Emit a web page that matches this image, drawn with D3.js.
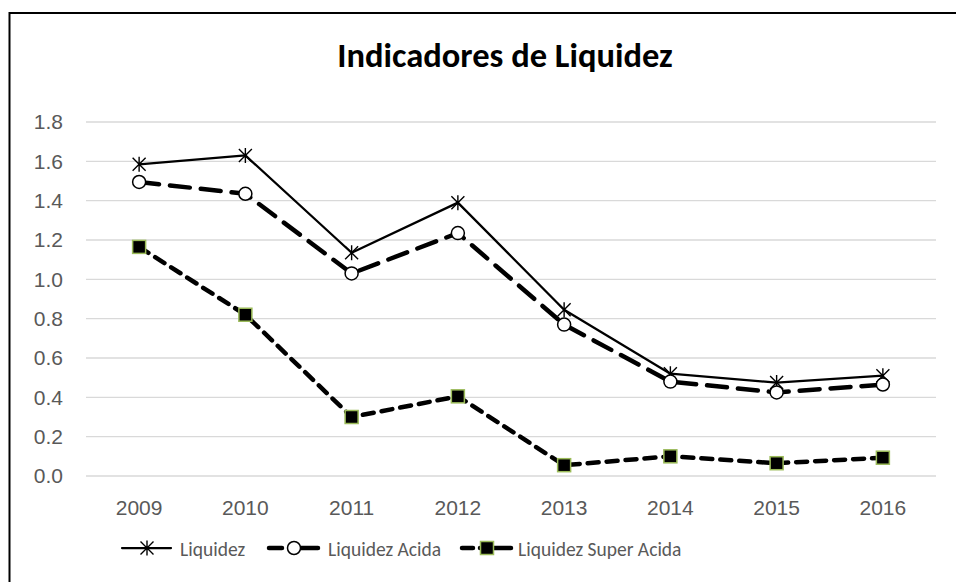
<!DOCTYPE html>
<html>
<head>
<meta charset="utf-8">
<script src="https://cdn.jsdelivr.net/npm/d3@7"></script>
<style>
  body { margin: 0; background: #fff; }
  svg { display: block; font-family: Calibri, Carlito, "Open Sans", "Liberation Sans", sans-serif; }
</style>
</head>
<body>
<svg id="chart" width="956" height="582"></svg>
<script>
var years = ["2009", "2010", "2011", "2012", "2013", "2014", "2015", "2016"];
var liquidez = [1.585, 1.63, 1.135, 1.39, 0.845, 0.52, 0.475, 0.51];
var liquidezAcida = [1.495, 1.435, 1.03, 1.235, 0.77, 0.48, 0.425, 0.465];
var liquidezSuperAcida = [1.165, 0.82, 0.30, 0.405, 0.055, 0.10, 0.065, 0.093];
var yTicks = [0, 0.2, 0.4, 0.6, 0.8, 1.0, 1.2, 1.4, 1.6, 1.8];

var series = [
  { name: "Liquidez", values: liquidez, width: 2.25, dash: null, legendDash: null, marker: "star" },
  { name: "Liquidez Acida", values: liquidezAcida, width: 4.5, dash: "20,11", legendDash: "13,19,17,20", marker: "circle" },
  { name: "Liquidez Super Acida", values: liquidezSuperAcida, width: 4.5, dash: "11,8", legendDash: "11,7,2,12,17,30", marker: "square" }
];

var svg = d3.select("#chart");

// frame (only top and left edges are in view)
svg.append("path")
  .attr("d", "M9.5,582V13H956")
  .attr("fill", "none").attr("stroke", "#000").attr("stroke-width", 2);

svg.append("text")
  .attr("x", 505).attr("y", 67)
  .attr("text-anchor", "middle")
  .attr("font-size", 34.5).attr("font-weight", "bold")
  .text("Indicadores de Liquidez");

var x = d3.scaleBand().domain(years).range([86, 936]);
var y = d3.scaleLinear().domain([0, 1.8]).range([476, 122]);

// grid
svg.append("g").selectAll("line")
  .data(yTicks).enter().append("line")
  .attr("x1", 86).attr("x2", 936)
  .attr("y1", function(d) { return y(d); })
  .attr("y2", function(d) { return y(d); })
  .attr("stroke", "#d9d9d9").attr("stroke-width", 1.3);

var yAxis = svg.append("g")
  .attr("transform", "translate(86,0)")
  .call(d3.axisLeft(y).tickValues(yTicks).tickFormat(d3.format(".1f")).tickSize(0).tickPadding(23));
yAxis.select(".domain").remove();
yAxis.selectAll("text").attr("font-size", 21).attr("fill", "#595959").attr("font-family", null);

var xAxis = svg.append("g")
  .attr("transform", "translate(0,476)")
  .call(d3.axisBottom(x).tickSize(0).tickPadding(24));
xAxis.select(".domain").remove();
xAxis.selectAll("text").attr("font-size", 21).attr("fill", "#595959").attr("font-family", null);

function cx(i) { return x(years[i]) + x.bandwidth() / 2; }

function drawMarker(g, type, px, py) {
  if (type === "star") {
    var s = 6.5;
    g.append("path")
      .attr("d", "M" + (px - s) + "," + (py - s) + "L" + (px + s) + "," + (py + s) +
                 "M" + (px - s) + "," + (py + s) + "L" + (px + s) + "," + (py - s) +
                 "M" + px + "," + (py - s - 1) + "L" + px + "," + (py + s + 1))
      .attr("stroke", "#000").attr("stroke-width", 1.4).attr("fill", "none");
  } else if (type === "circle") {
    g.append("circle").attr("cx", px).attr("cy", py).attr("r", 6.5)
      .attr("fill", "#fff").attr("stroke", "#000").attr("stroke-width", 1.5);
  } else {
    g.append("rect").attr("x", px - 6.5).attr("y", py - 6.5)
      .attr("width", 13).attr("height", 13)
      .attr("fill", "#000").attr("stroke", "#9bbb59").attr("stroke-width", 1.5);
  }
}

var line = d3.line()
  .x(function(d, i) { return cx(i); })
  .y(function(d) { return y(d); });

series.forEach(function(s) {
  var g = svg.append("g");
  g.append("path")
    .attr("d", line(s.values))
    .attr("fill", "none").attr("stroke", "#000")
    .attr("stroke-width", s.width)
    .attr("stroke-linecap", "round")
    .attr("stroke-linejoin", "round")
    .attr("stroke-dasharray", s.dash);
  s.values.forEach(function(v, i) { drawMarker(g, s.marker, cx(i), y(v)); });
});

// legend
var legendX = [122, 269, 462];
var legendText = [180, 328, 518];
series.forEach(function(s, i) {
  var g = svg.append("g").attr("transform", "translate(" + legendX[i] + ",548)");
  g.append("line").attr("x1", 0).attr("x2", 49).attr("y1", 0).attr("y2", 0)
    .attr("stroke", "#000").attr("stroke-width", s.width)
    .attr("stroke-linecap", "round")
    .attr("stroke-dasharray", s.legendDash);
  drawMarker(g, s.marker, 25, 0);
  g.append("text").attr("x", legendText[i] - legendX[i]).attr("y", 8)
    .attr("font-size", 19.5).attr("fill", "#595959")
    .text(s.name);
});
</script>
</body>
</html>
